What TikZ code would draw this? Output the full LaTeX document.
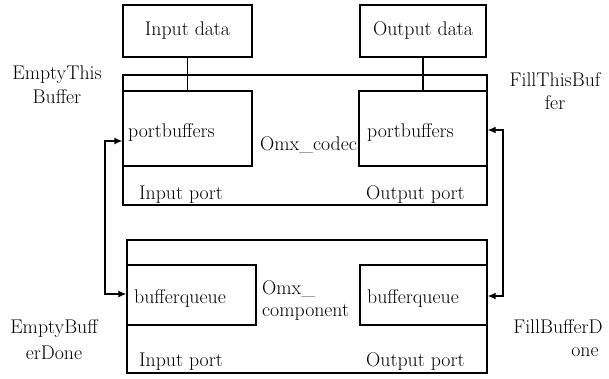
\documentclass[tikz,border=0pt]{standalone}
\usetikzlibrary{arrows.meta}
\begin{document}
\begin{tikzpicture}[x=1pt,y=-1pt,
  every node/.style={font=\fontsize{19.8}{24}\selectfont, inner sep=0pt},
  frame/.style={draw, line width=1.3pt},
  lbl/.style={anchor=west},
  side/.style={align=center},
  conn/.style={line width=1.3pt},
  sig/.style={line width=1.3pt, {Latex[length=8pt,width=7pt]}-{Latex[length=8pt,width=7pt]}}
]
\useasboundingbox (0,0) rectangle (609,379);

% data buffers on top
\node[frame, minimum width=129pt, minimum height=52pt] (indata) at (187.5,31) {Input data};
\node[frame, minimum width=126pt, minimum height=52pt] (outdata) at (423,31) {Output data};

% Omx_codec with its two ports
\node[frame, minimum width=364pt, minimum height=130pt] (codec) at (305,140) {};
\node[frame, minimum width=129pt, minimum height=75pt] (pbin) at (187.5,128.5) {};
\node[frame, minimum width=128pt, minimum height=75pt] (pbout) at (423,128.5) {};
\node[lbl] (pbintext) at (128,132) {portbuffers};
\node[lbl] (pbouttext) at (367,132) {portbuffers};
\node[lbl] (codecname) at (260,145) {Omx\_codec};
\node[lbl] (cinport) at (139,195) {Input port};
\node[lbl] (coutport) at (366,195) {Output port};

% Omx_component with its two ports
\node[frame, minimum width=360pt, minimum height=133pt] (comp) at (307,306.5) {};
\node[frame, minimum width=129pt, minimum height=60pt] (bqin) at (191.5,295) {};
\node[frame, minimum width=127pt, minimum height=60pt] (bqout) at (423.5,295) {};
\node[lbl] (bqintext) at (134,298) {bufferqueue};
\node[lbl] (bqouttext) at (367,298) {bufferqueue};
\node[anchor=west, align=left, font=\fontsize{19.8}{22}\selectfont] (compname) at (262,301) {Omx\_\\component};
\node[lbl] (pinport) at (139,362) {Input port};
\node[lbl] (poutport) at (366,362) {Output port};

% data paths into the port buffers
\draw[conn] (indata.south) -- (indata.south |- pbin.north);
\draw[conn] (outdata.south) -- (outdata.south |- pbout.north);

% buffer calls between codec and component
\coordinate (lt) at (105,141);
\coordinate (lb) at (105,294);
\coordinate (rt) at (503,130);
\coordinate (rb) at (503,296);
\draw[sig] (pbin.west |- lt) -- (lt) -- (lb) -- (bqin.west |- lb);
\draw[sig] (pbout.east |- rt) -- (rt) -- (rb) -- (bqout.east |- rb);

% call names
\node[side] (etb) at (57,84.5) {EmptyThis\\Buffer};
\node[side, font=\fontsize{19.8}{23}\selectfont] (ftb) at (555,91.5) {FillThisBuf\\fer};
\node[side, font=\fontsize{19.8}{26}\selectfont] (ebd) at (54,340) {EmptyBuff\\erDone};
\node (fbd1) at (558,327) {FillBufferD};
\node (fbd2) at (585,352) {one};
\end{tikzpicture}
\end{document}
